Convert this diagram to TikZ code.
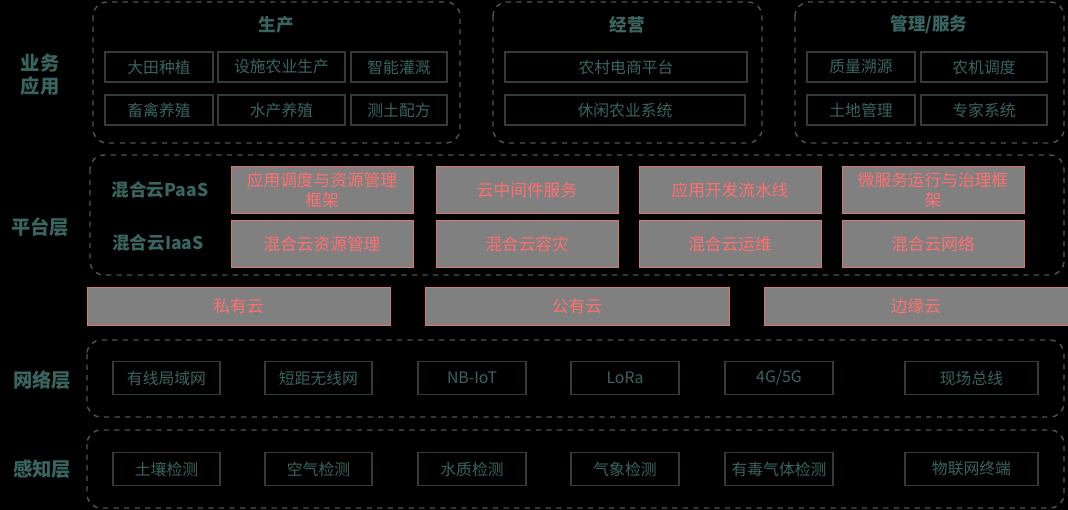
\documentclass[tikz,border=0pt]{standalone}
\usepackage{fontspec}
\setmainfont{Noto Sans CJK SC}
\usetikzlibrary{positioning}
\definecolor{teal}{HTML}{3A645F}
\definecolor{grp}{HTML}{4A5553}
\definecolor{pink}{HTML}{FF7070}
\begin{document}
\begin{tikzpicture}[x=0.02cm,y=-0.02cm]
\tikzstyle{group}=[draw=grp, dashed, rounded corners=8pt, thick]
\tikzstyle{item}=[draw=grp!70!black, thick, text=teal, font=\fontsize{9}{10}\selectfont]
\tikzstyle{cloud}=[draw=pink!70!gray, fill=gray, text=pink, font=\fontsize{9.5}{11}\selectfont, align=center]
\tikzstyle{lbl}=[text=teal, font=\bfseries\fontsize{11}{13}\selectfont, align=center]
\fill[black] (0,0) rectangle (1068,510);
\useasboundingbox (0,0) rectangle (1068,510);
% 业务应用
\node[lbl] (app) at (40,75) {业务\\应用};
\draw[group] (93,2) rectangle (460,143);
\draw[group] (493,2) rectangle (762,143);
\draw[group] (795,2) rectangle (1064,143);
\node[lbl, font=\bfseries\fontsize{10}{12}\selectfont] (prod) at (276,25) {生产};
\node[lbl, font=\bfseries\fontsize{10}{12}\selectfont] (oper) at (627,25) {经营};
\node[lbl, font=\bfseries\fontsize{10}{12}\selectfont] (serv) at (929,25) {管理/服务};
\foreach \name/\xa/\xb/\y/\t in {p1/105/213/52/大田种植, p2/218/345/52/设施农业生产, p3/351/447/52/智能灌溉,
  p4/105/213/95/畜禽养殖, p5/218/345/95/水产养殖, p6/351/447/95/测土配方,
  o1/505/747/52/农村电商平台, o2/505/745/95/休闲农业系统,
  s1/807/915/52/质量溯源, s2/921/1047/52/农机调度, s3/807/915/95/土地管理, s4/921/1047/95/专家系统}
    \node[item, minimum width=(\xb-\xa)*0.02cm, minimum height=0.6cm] (\name) at ({(\xa+\xb)/2},\y+15) {\t};
% 平台层
\draw[group] (90,155) rectangle (1064,275);
\node[lbl] (plat) at (40,227) {平台层};
\node[lbl, font=\bfseries\fontsize{10}{12}\selectfont] (paas) at (160,190) {混合云PaaS};
\node[lbl, font=\bfseries\fontsize{10}{12}\selectfont] (iaas) at (158,243) {混合云IaaS};
\foreach \name/\x/\y/\t in {a1/322/190/应用调度与资源管理\\框架, a2/527/190/云中间件服务, a3/730/190/应用开发流水线, a4/933/190/微服务运行与治理框\\架,
  b1/322/244/混合云资源管理, b2/527/244/混合云容灾, b3/730/244/混合云运维, b4/933/244/混合云网络}
    \node[cloud, minimum width=3.64cm, minimum height=0.94cm] (\name) at (\x,\y) {\t};
% 云
\foreach \name/\xa/\xb/\t in {c1/87/390/私有云, c2/425/729/公有云, c3/764/1068/边缘云}
    \node[cloud, minimum width=(\xb-\xa)*0.02cm, minimum height=0.76cm] (\name) at ({(\xa+\xb)/2},306) {\t};
% 网络层 / 感知层
\draw[group] (87,340) rectangle (1064,417);
\draw[group] (87,430) rectangle (1064,508);
\node[lbl] (net) at (42,380) {网络层};
\node[lbl] (sens) at (42,469) {感知层};
\foreach \name/\xa/\xb/\t/\u in {1/113/220/有线局域网/土壤检测, 2/265/372/短距无线网/空气检测, 3/418/526/NB-IoT/水质检测,
  4/571/679/LoRa/气象检测, 5/725/833/{4G/5G}/有毒气体检测, 6/905/1038/现场总线/物联网终端}
   {
    \node[item, minimum width=(\xb-\xa)*0.02cm, minimum height=0.66cm] (n\name) at ({(\xa+\xb)/2},378) {\t};
    \node[item, minimum width=(\xb-\xa)*0.02cm, minimum height=0.66cm] (k\name) at ({(\xa+\xb)/2},469) {\u};
   }
\end{tikzpicture}
\end{document}
